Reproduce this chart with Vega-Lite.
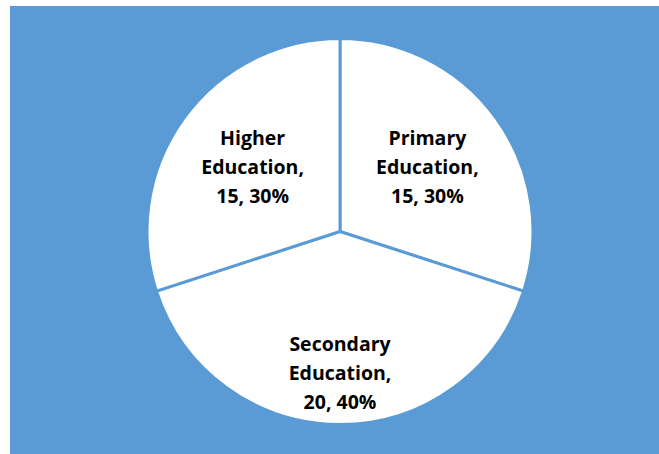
{
  "$schema": "https://vega.github.io/schema/vega-lite/v6.json",
  "width": 660,
  "height": 451,
  "autosize": {"type": "none"},
  "padding": {"left": 10, "top": 6, "right": -11, "bottom": -3},
  "background": "white",
  "view": {"fill": "#5B9BD5", "stroke": null},
  "data": {
    "values": [
      {"category": "Primary Education", "rank": 1, "value": 15, "label": "Primary\nEducation,\n15, 30%"},
      {"category": "Secondary Education", "rank": 2, "value": 20, "label": "Secondary\nEducation,\n20, 40%"},
      {"category": "Higher Education", "rank": 3, "value": 15, "label": "Higher\nEducation,\n15, 30%"}
    ]
  },
  "encoding": {
    "theta": {"field": "value", "type": "quantitative", "stack": true},
    "order": {"field": "rank", "type": "quantitative"}
  },
  "layer": [
    {
      "mark": {"type": "arc", "outerRadius": 193, "fill": "white", "stroke": "#5B9BD5", "strokeWidth": 3}
    },
    {
      "mark": {"type": "text", "font": "Open Sans", "fontWeight": "bold", "fontSize": 19.5, "lineHeight": 29, "lineBreak": "\n", "dy": -29, "color": "black", "align": "center", "baseline": "middle"},
      "encoding": {
        "text": {"field": "label", "type": "nominal"},
        "radius": {"field": "value", "type": "quantitative", "scale": {"type": "linear", "zero": false, "domain": [15, 20], "range": [108, 142]}}
      }
    }
  ]
}
